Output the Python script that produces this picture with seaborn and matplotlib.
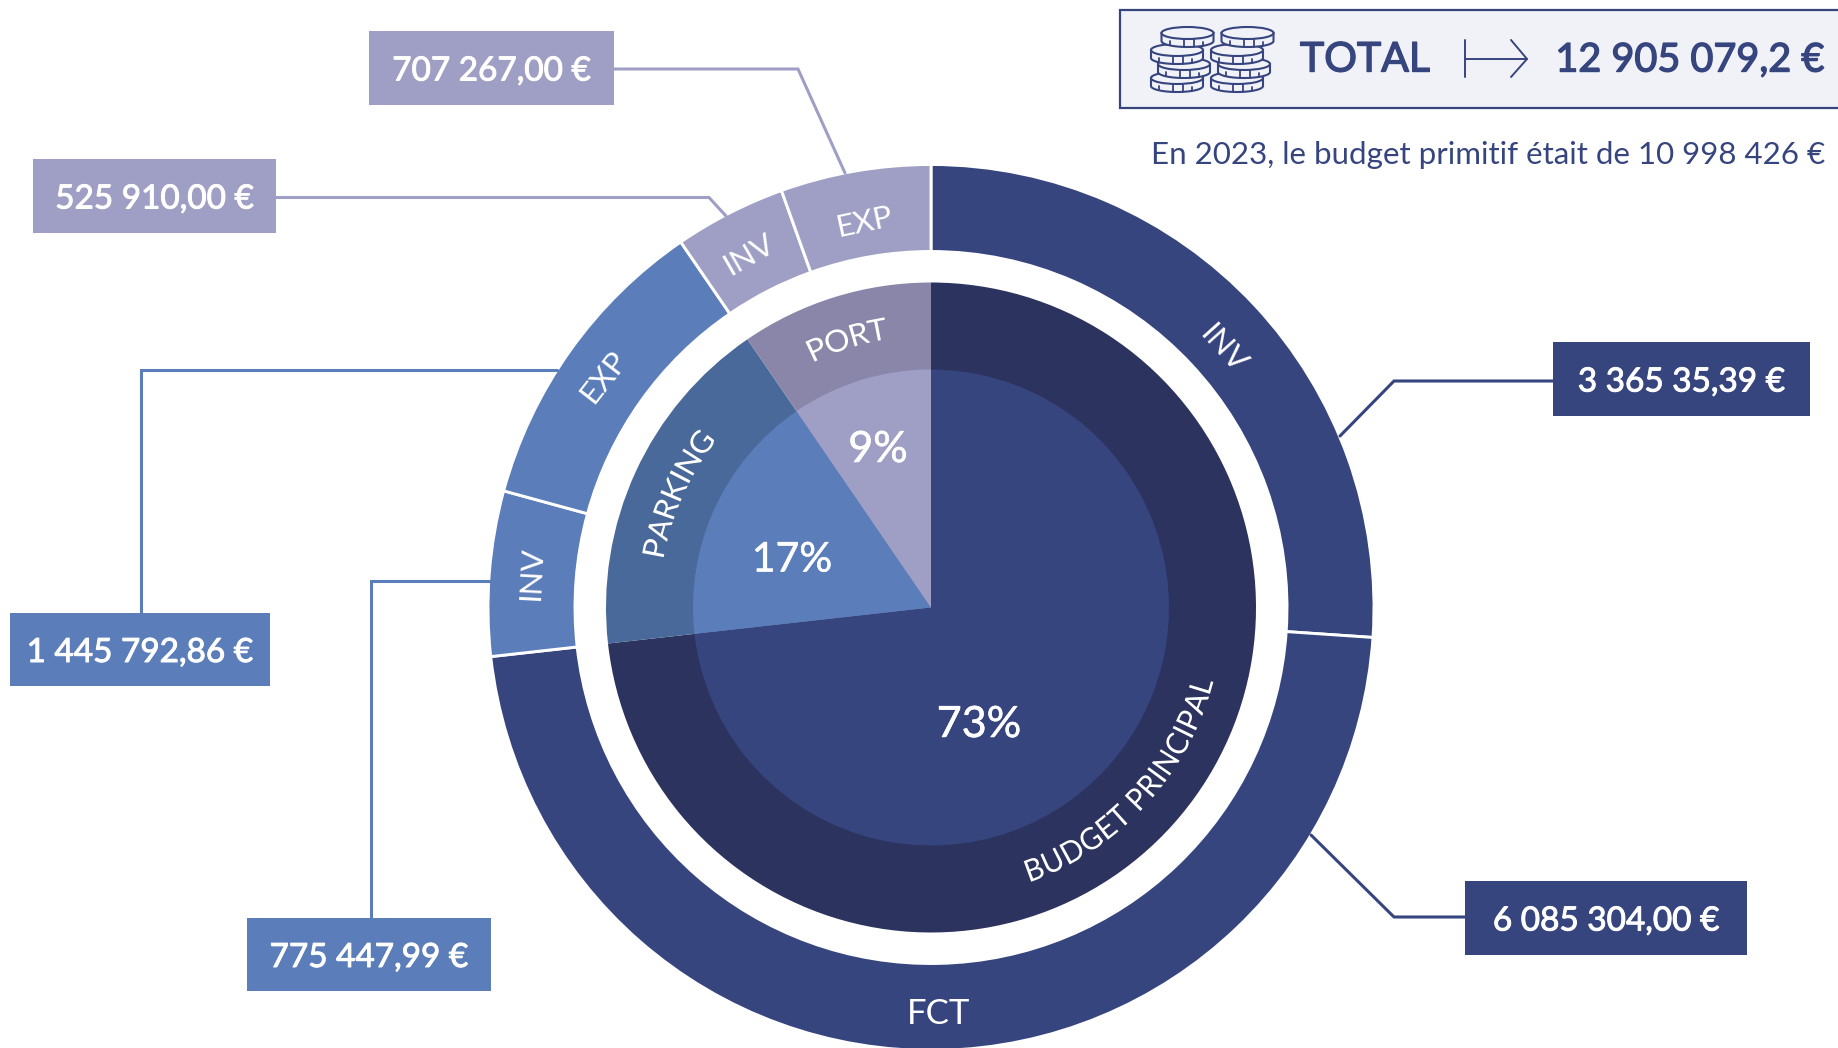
import numpy as np
import pandas as pd
import seaborn as sns
import matplotlib
matplotlib.use("Agg")
import matplotlib.pyplot as plt
from matplotlib.patches import Rectangle, Polygon, Ellipse
from matplotlib.path import Path
from matplotlib.patheffects import AbstractPathEffect, Stroke, Normal
from matplotlib.transforms import IdentityTransform

# ---- data ----
budgets = ["BUDGET PRINCIPAL", "BUDGET PRINCIPAL", "PARKING", "PARKING", "PORT", "PORT"]
sections = ["INV", "FCT", "INV", "EXP", "INV", "EXP"]
amounts = [3365335.39, 6085304.00, 775447.99, 1445792.86, 525910.00, 707267.00]
amount_labels = ["3 365 35,39 €", "6 085 304,00 €", "775 447,99 €",
                 "1 445 792,86 €", "525 910,00 €", "707 267,00 €"]
budget_order = ["BUDGET PRINCIPAL", "PARKING", "PORT"]
share_labels = ["73%", "17%", "9%"]
total_label = "12 905 079,2 €"
note = "En 2023, le budget primitif était de 10 998 426 €"

W, H = 1838, 1048
sns.set_theme(style="white")
plt.rcParams["font.family"] = ["Lato", "DejaVu Sans"]

base = sns.color_palette(["#37457F", "#5B7DBA", "#9F9FC5"])
ring = sns.color_palette(["#2B335E", "#48699A", "#8986AA"])
base_of = dict(zip(budget_order, base))
ring_of = dict(zip(budget_order, ring))

df = pd.DataFrame({"budget": budgets, "section": sections, "amount": amounts, "label": amount_labels})
grouped = df.groupby("budget", sort=False)["amount"].sum().reindex(budget_order)

fig = plt.figure(figsize=(W / 100, H / 100), dpi=100, facecolor="white")
ax = fig.add_axes([0, 0, 1, 1])
Y = lambda py: H - py
CX, CY = 931, Y(607.5)

pie_kw = dict(center=(CX, CY), startangle=90, counterclock=False, normalize=True, frame=False)
ax.pie(df["amount"], radius=443, colors=[base_of[b] for b in df["budget"]],
       wedgeprops=dict(width=87, edgecolor="white", linewidth=2.1), **pie_kw)
ax.pie(grouped.values, radius=325, colors=[ring_of[b] for b in budget_order],
       wedgeprops=dict(edgecolor="none"), **pie_kw)
ax.pie(grouped.values, radius=238, colors=[base_of[b] for b in budget_order],
       wedgeprops=dict(edgecolor="none"), **pie_kw)
ax.set_xlim(0, W)
ax.set_ylim(0, H)
ax.set_aspect("auto")
ax.axis("off")


def heavier(color, width):
    return [Stroke(linewidth=width, foreground=color), Normal()]


class ArcWarp(AbstractPathEffect):
    """Bends a rotated text line along a circle around the chart centre."""
    def __init__(self, anchor, rot, radius, angle, outward):
        super().__init__()
        self.anchor, self.rot, self.radius = np.array(anchor, float), np.radians(rot), radius
        self.angle, self.sign = np.radians(angle), 1 if outward else -1

    def draw_path(self, renderer, gc, tpath, affine, rgbFace=None):
        v = affine.transform(tpath.vertices) - self.anchor
        c, s = np.cos(self.rot), np.sin(self.rot)
        u = v[:, 0] * c + v[:, 1] * s
        h = -v[:, 0] * s + v[:, 1] * c
        a = self.angle - self.sign * u / self.radius
        r = self.radius + self.sign * h
        xy = np.column_stack([CX + r * np.cos(a), CY + r * np.sin(a)])
        renderer.draw_path(gc, Path(xy, tpath.codes), IdentityTransform(), rgbFace)


def arc_text(s, cw_deg, radius, outward, size):
    math_deg = 90 - cw_deg
    a = np.radians(math_deg)
    x, y = CX + radius * np.cos(a), CY + radius * np.sin(a)
    rot = math_deg - 90 if outward else math_deg + 90
    t = ax.text(x, y, s, color="white", fontsize=size, ha="center", va="baseline",
                rotation=rot, rotation_mode="anchor")
    t.set_path_effects([ArcWarp((x, y), rot, radius, math_deg, outward)])


# ---- labels inside the rings ----
ring_labels = [("INV", 1223, 349, -48, 22.5), ("FCT", 939, 1014, 0, 25), ("INV", 532, 574, 87, 22.5),
               ("EXP", 604, 377, 52, 22.5), ("INV", 749, 255, 30, 22.5), ("EXP", 864, 222, 12, 22.5)]
for s, px, py, rot, size in ring_labels:
    ax.text(px, Y(py), s, color="white", fontsize=size, ha="center", va="center",
            rotation=rot, rotation_mode="anchor")

arc_text("BUDGET PRINCIPAL", 90 + 42.7, 292, False, 22)
arc_text("PARKING", 294, 272, True, 22)
arc_text("PORT", 342.5, 272, True, 22)

for s, px, py, size in zip(share_labels, [979, 792, 878], [725, 560, 450], [31, 29.5, 31]):
    ax.text(px, Y(py), s, color="white", fontsize=size, ha="center", va="center",
            path_effects=heavier("white", 0.4))

# ---- amount boxes and their leader lines ----
boxes = [(1553, 342, 1810, 416), (1465, 881, 1747, 955), (247, 918, 491, 991),
         (10, 613, 270, 686), (33, 159, 276, 233), (369, 31, 614, 105)]
leaders = [[(1553, 381), (1394, 381), (1340, 436)],
           [(1465, 917), (1394, 917), (1311, 835)],
           [(371, 918), (371, 581), (490, 581)],
           [(141, 613), (141, 370), (557, 370)],
           [(276, 197.5), (709, 197.5), (726, 216)],
           [(614, 69), (798, 69), (845, 173)]]
for (x0, y0, x1, y1), pts, s, b in zip(boxes, leaders, df["label"], df["budget"]):
    col = base_of[b]
    ax.add_patch(Rectangle((x0, Y(y1)), x1 - x0, y1 - y0, facecolor=col, edgecolor="none", zorder=3))
    ax.plot([p[0] for p in pts], [Y(p[1]) for p in pts], color=col, lw=2.2, zorder=2,
            solid_joinstyle="miter")
    ax.text((x0 + x1) / 2, Y((y0 + y1) / 2 + 3.5), s, color="white", fontsize=24, ha="center",
            va="center", zorder=4, path_effects=heavier("white", 0.7))

# ---- total banner ----
ink = "#37457F"
paper = "#F1F2F8"
ax.add_patch(Rectangle((1120, Y(108)), 760, 98, facecolor=paper, edgecolor=ink, linewidth=1.6, zorder=1))


def coin(cx, py):
    rx, ry, th = 26, 6, 8
    cy = Y(py)
    t = np.linspace(0, np.pi, 40)
    front = np.column_stack([cx + rx * np.cos(t), cy - th - ry * np.sin(t)])
    body = np.vstack([[[cx - rx, cy]], front[::-1], [[cx + rx, cy]]])
    ax.add_patch(Polygon(body, closed=True, facecolor=paper, edgecolor=ink, lw=1.5, zorder=5))
    ax.add_patch(Ellipse((cx, cy), 2 * rx, 2 * ry, facecolor=paper, edgecolor=ink, lw=1.5, zorder=5))
    for dx, ln in [(-18, 4), (-4, 8), (6, 8), (15, 4)]:
        yb = cy - th - ry * np.sqrt(1 - (dx / rx) ** 2)
        ax.plot([cx + dx, cx + dx], [yb, yb + ln], color=ink, lw=1.3, zorder=5)


for off in (0, 60):
    for cx, py in [(1177, 78), (1184, 64), (1177, 50), (1187.5, 33)]:
        coin(cx + off, py)

ax.text(1300, Y(60), "TOTAL", color=ink, fontsize=29.5, ha="left", va="center",
        path_effects=heavier(ink, 1.0))
ax.plot([1465, 1465], [Y(40), Y(77)], color=ink, lw=1.4)
ax.plot([1465, 1527], [Y(59), Y(59)], color=ink, lw=1.4)
ax.plot([1511, 1527, 1511], [Y(40), Y(59), Y(77)], color=ink, lw=1.4)
ax.text(1825, Y(60), total_label, color=ink, fontsize=28.5, ha="right", va="center",
        path_effects=heavier(ink, 1.0))
ax.text(1825, Y(155), note, color=ink, fontsize=22.5, ha="right", va="center")

fig.savefig("out.png", dpi=100, facecolor="white")
